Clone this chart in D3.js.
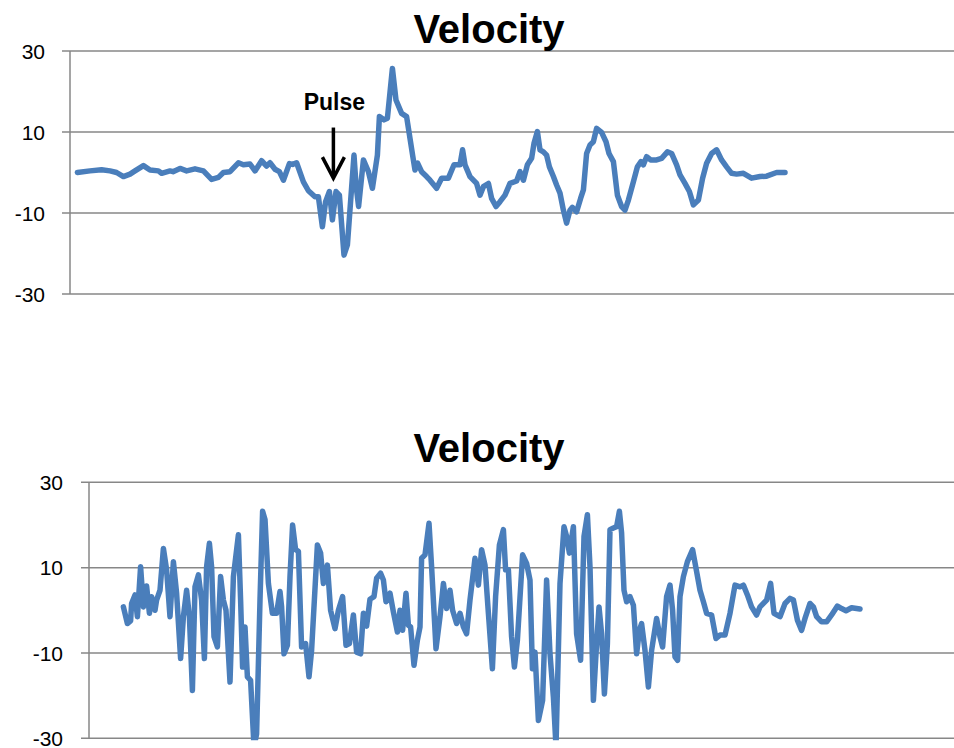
<!DOCTYPE html>
<html>
<head>
<meta charset="utf-8">
<script src="https://cdn.jsdelivr.net/npm/d3@7"></script>
<style>
  html, body { margin: 0; padding: 0; background: #fff; }
  svg { display: block; }
</style>
</head>
<body>
<svg id="chart" width="954" height="748"></svg>
<script>
// ---------------- DATA ----------------
const yTicks = [-30, -10, 10, 30];
const chartTitle = "Velocity";
const pulseLabel = "Pulse";

// Top record (time, velocity)
const topTime = [0.37,1.0,1.58,2.0,2.33,2.67,3.0,3.25,3.67,4.0,4.42,4.58,5.0,5.15,5.5,5.83,6.25,6.67,7.08,7.42,
  7.67,8.0,8.42,8.67,9.0,9.25,9.58,9.83,10.0,10.25,10.47,10.67,10.97,11.13,11.33,11.67,11.92,12.25,12.42,12.62,
  12.78,12.97,13.12,13.3,13.47,13.7,13.87,14.2,14.3,14.43,14.67,14.92,15.12,15.37,15.47,15.7,15.87,16.12,16.3,16.58,
  16.83,17.13,17.25,17.38,17.58,17.83,18.0,18.33,18.58,18.92,19.2,19.5,19.63,19.75,20.0,20.33,20.5,20.67,20.92,21.08,
  21.3,21.5,21.75,22.0,22.33,22.5,22.67,22.87,23.08,23.2,23.37,23.5,23.67,23.83,23.97,24.17,24.33,24.5,24.67,24.83,
  25.0,25.12,25.33,25.53,25.67,25.83,26.0,26.17,26.33,26.58,26.8,26.95,27.17,27.37,27.58,27.75,27.92,28.17,28.37,28.55,
  28.67,28.83,29.03,29.33,29.58,29.87,30.08,30.33,30.5,30.75,30.97,31.17,31.42,31.63,31.83,32.08,32.33,32.58,32.83,33.08,
  33.33,33.67,34.08,34.5,34.83,35.33,35.75];
const topVelocity = [0.0,0.4,0.7,0.4,0.0,-1.0,-0.4,0.4,1.7,0.6,0.4,-0.2,0.4,0.2,1.0,0.4,0.9,0.4,-1.7,-1.2,
  0.0,0.2,2.4,1.9,2.1,0.4,2.9,1.6,2.4,0.8,0.2,-1.9,2.2,2.0,2.4,-2.3,-4.5,-6.0,-6.0,-13.4,
  -7.2,-4.7,-11.7,-4.7,-5.6,-20.4,-17.9,4.3,-3.1,-8.4,3.1,0.2,-3.9,4.3,13.8,13.0,13.4,25.7,17.9,14.6,
  13.8,4.3,0.6,2.3,0.2,-1.0,-1.9,-3.9,-1.4,-1.4,1.9,1.9,5.6,1.9,-1.0,-2.7,-5.6,-3.5,-2.7,-6.4,
  -8.4,-7.2,-5.6,-2.7,-2.1,0.2,-1.9,1.9,3.5,7.2,10.1,5.6,5.1,4.3,1.4,-1.0,-3.1,-5.1,-9.3,-12.5,
  -9.3,-8.6,-9.7,-6.4,-4.3,4.7,6.8,7.6,10.9,9.9,7.6,4.7,2.7,-5.6,-8.4,-9.3,-6.8,-2.3,1.4,2.7,
  1.9,3.9,3.1,3.1,3.5,5.1,4.7,1.9,-0.6,-2.7,-4.7,-8.0,-6.8,-1.4,2.3,4.7,5.6,3.1,1.4,-0.2,
  -0.4,-0.2,-1.4,-1.0,-0.9,0.0,0.0];

// Bottom record (time, velocity)
const bottomTime = [1.72,1.92,2.08,2.13,2.3,2.42,2.58,2.72,2.88,3.02,3.13,3.3,3.38,3.55,3.72,3.88,4.05,4.22,4.38,4.58,
  4.72,4.88,5.02,5.17,5.3,5.47,5.63,5.77,5.88,6.02,6.13,6.25,6.42,6.58,6.72,6.85,7.05,7.22,7.47,7.58,
  7.68,7.8,7.92,8.08,8.25,8.38,8.55,8.68,8.8,8.97,9.17,9.38,9.55,9.63,9.75,9.92,10.05,10.18,10.33,10.47,
  10.63,10.83,11.0,11.13,11.42,11.58,11.72,11.92,12.08,12.3,12.47,12.68,12.85,13.02,13.22,13.38,13.58,13.72,13.88,14.05,
  14.25,14.38,14.58,14.72,14.85,15.05,15.22,15.42,15.55,15.68,15.85,15.97,16.08,16.25,16.42,16.55,16.63,16.8,17.0,17.13,
  17.35,17.55,17.72,17.88,18.05,18.18,18.38,18.55,18.72,18.88,19.05,19.3,19.47,19.63,19.8,19.97,20.17,20.33,20.52,20.72,
  20.83,20.97,21.13,21.27,21.42,21.68,21.88,22.05,22.17,22.3,22.47,22.68,22.88,23.05,23.22,23.35,23.55,23.75,23.88,24.02,
  24.22,24.38,24.58,24.75,24.92,25.05,25.22,25.35,25.5,25.63,25.77,25.92,26.05,26.22,26.38,26.52,26.63,26.75,26.88,27.05,
  27.22,27.38,27.52,27.63,27.8,27.97,28.13,28.38,28.55,28.68,28.88,29.05,29.18,29.3,29.43,29.55,29.72,29.92,30.18,30.38,
  30.55,30.72,30.88,31.13,31.35,31.55,31.8,32.05,32.3,32.55,32.72,32.92,33.13,33.38,33.55,33.88,34.08,34.25,34.55,34.8,
  35.05,35.22,35.42,35.63,35.8,36.05,36.22,36.38,36.63,36.88,37.13,37.42,37.63,37.85,38.13,38.55];
const bottomVelocity = [0.8,-3.1,-2.5,1.6,3.6,-1.5,10.2,0.8,5.7,-0.7,3.2,0.0,2.4,4.7,14.5,9.5,-1.5,11.4,4.0,-11.3,
  -1.5,4.7,-1.5,-18.8,5.5,8.3,2.4,-11.3,10.2,15.7,10.2,-6.2,-8.6,7.9,2.4,0.0,-16.8,7.9,17.7,2.4,
  -13.3,-3.9,-15.6,-16.4,-32,-29,2.4,23.2,21.3,6.3,-0.7,-0.7,4.4,0.8,-10.2,-8.2,7.9,20.0,14.2,13.8,
  -8.6,-7.8,-15.6,-9.4,15.3,13.4,6.3,10.6,0.0,-4.3,0.0,3.2,-8.2,-7.8,-1.1,-9.8,-10.2,-0.7,-3.7,2.6,
  3.2,7.5,8.7,7.1,2.0,4.0,-0.4,-5.1,0.0,-4.7,4.0,-3.5,-3.9,-12.9,-7.0,-3.9,12.2,13.0,20.4,10.2,
  -9.0,-1.5,6.3,0.4,4.7,0.0,-3.1,-0.7,-3.9,-5.5,2.4,12.2,5.9,14.2,10.6,-0.7,-13.7,3.2,15.3,18.9,
  9.5,9.5,-6.2,-13.3,-7.0,13.0,11.0,7.1,-13.7,-9.8,-25.8,-21.1,7.1,-10.2,-20.4,-32,6.3,19.6,17.3,13.4,
  19.6,-5.5,-11.7,17.3,22.4,10.2,-21.1,-10.2,0.8,-5.5,-19.6,-7.8,18.9,19.3,19.6,23.2,18.1,4.7,2.0,3.2,
  1.2,-10.2,-4.7,-3.1,-9.4,-18.0,-9.4,-1.9,-6.2,-8.6,3.2,5.9,0.0,-10.9,-11.7,3.2,7.9,11.4,14.2,9.1,
  4.7,2.0,-0.7,-1.1,-6.6,-5.8,-5.8,-0.7,5.9,5.5,5.9,3.6,0.8,-1.1,0.8,2.4,6.3,-0.7,-1.5,1.6,
  2.8,2.4,-2.3,-4.7,-1.9,1.6,0.8,-1.5,-2.7,-2.7,-1.1,1.0,0.4,-0.1,0.6,0.3];

// Annotation on the top record (time, velocity of arrow start / tip, label)
const pulseTime = 13.17;
const pulseArrowFrom = 11.1;
const pulseArrowTo = -1.4;
const pulseLabelV = 15.4;

// ---------------- DRAWING ----------------
const svg = d3.select("#chart");
const lineColor = "#4a7ebb";
const gridColor = "#878787";
const textFont = "'Liberation Sans', Arial, sans-serif";

const panels = [
  { time: topTime, vel: topVelocity, xDomain: [0, 44.2], left: 70, right: 954, top: 51, bottom: 294,
    labelRight: 45, titleY: 43, id: "p1", pulse: true },
  { time: bottomTime, vel: bottomVelocity, xDomain: [0, 43.25], left: 89, right: 954, top: 482.3, bottom: 738.3,
    labelRight: 63, titleY: 462, id: "p2", pulse: false }
];

panels.forEach(p => {
  const x = d3.scaleLinear().domain(p.xDomain).range([p.left, p.right]);
  const y = d3.scaleLinear().domain([-30, 30]).range([p.bottom, p.top]);
  const g = svg.append("g");

  // gridlines (incl. tick stubs to the left)
  g.selectAll("line.grid").data(yTicks).join("line")
    .attr("x1", p.left - 8).attr("x2", p.right)
    .attr("y1", d => y(d)).attr("y2", d => y(d))
    .attr("stroke", gridColor).attr("stroke-width", 1.5);

  // vertical axis
  g.append("line")
    .attr("x1", p.left).attr("x2", p.left)
    .attr("y1", y(30)).attr("y2", y(-30))
    .attr("stroke", gridColor).attr("stroke-width", 1.5);

  // tick labels
  g.selectAll("text.tick").data(yTicks).join("text")
    .attr("x", p.labelRight).attr("y", d => y(d))
    .attr("dy", "0.36em")
    .attr("text-anchor", "end")
    .attr("font-family", textFont).attr("font-size", 21)
    .attr("fill", "#000")
    .text(d => d);

  // title
  g.append("text")
    .attr("x", 489).attr("y", p.titleY)
    .attr("text-anchor", "middle")
    .attr("font-family", textFont).attr("font-weight", "bold").attr("font-size", 40)
    .attr("fill", "#000")
    .text(chartTitle);

  // clip
  svg.append("clipPath").attr("id", "clip-" + p.id)
    .append("rect").attr("x", p.left).attr("y", y(30) - 10)
    .attr("width", p.right - p.left).attr("height", y(-30) - y(30) + 12);

  const data = p.time.map((t, i) => [t, p.vel[i]]);
  const line = d3.line().x(d => x(d[0])).y(d => y(d[1])).curve(d3.curveLinear);
  g.append("path")
    .datum(data)
    .attr("clip-path", "url(#clip-" + p.id + ")")
    .attr("d", line)
    .attr("fill", "none")
    .attr("stroke", lineColor)
    .attr("stroke-width", 5.5)
    .attr("stroke-linejoin", "round")
    .attr("stroke-linecap", "round");

  if (p.pulse) {
    const ax = x(pulseTime);
    g.append("text")
      .attr("x", ax + 1).attr("y", y(pulseLabelV))
      .attr("text-anchor", "middle")
      .attr("font-family", textFont).attr("font-weight", "bold").attr("font-size", 23)
      .attr("fill", "#000")
      .text(pulseLabel);
    const y0 = y(pulseArrowFrom), y1 = y(pulseArrowTo);
    g.append("line")
      .attr("x1", ax).attr("x2", ax).attr("y1", y0).attr("y2", y1 - 2)
      .attr("stroke", "#000").attr("stroke-width", 3.5);
    g.append("path")
      .attr("d", `M${ax - 11},${y1 - 21} L${ax},${y1} L${ax + 11},${y1 - 21}`)
      .attr("fill", "none").attr("stroke", "#000").attr("stroke-width", 3.5)
      .attr("stroke-linejoin", "miter");
  }
});
</script>
</body>
</html>
